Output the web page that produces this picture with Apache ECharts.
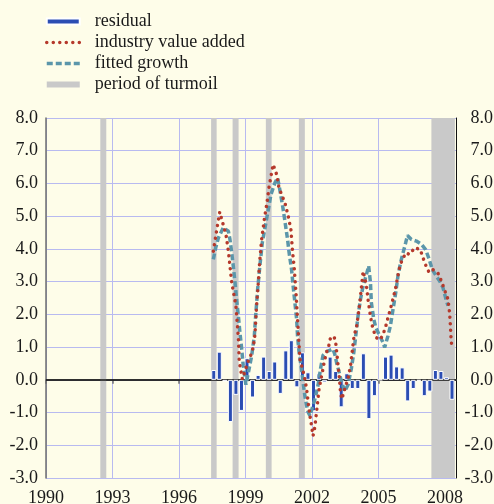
<!DOCTYPE html>
<html>
<head>
<meta charset="utf-8">
<script src="https://cdn.jsdelivr.net/npm/echarts@6/dist/echarts.min.js"></script>
<style>
  html, body { margin: 0; padding: 0; background: #fefde9; }
  #chart { width: 494px; height: 504px; }
</style>
</head>
<body>
<div id="chart"></div>
<script>
const SERIF = "'Liberation Serif', 'Times New Roman', serif"

// x ticks (years) and y range
const xTicks = [1990, 1993, 1996, 1999, 2002, 2005, 2008]

// residual, one bar per quarter from 1997Q3 to 2008Q2
const residualFirst = [1997, 3]
const residual = [
  0.30, 0.86, -0.05, -1.29, -0.46, -0.95, 0.66, -0.54,
  0.15, 0.71, 0.27, 0.56, -0.43, 0.90, 1.21, -0.23,
  0.84, 0.23, -0.96, 0.20, -0.08, 0.71, 0.27, -0.84,
  0.20, -0.28, -0.28, 0.81, -1.20, -0.50, 0.00, 0.71,
  0.77, 0.41, 0.38, -0.66, -0.28, -0.03, -0.50, -0.36,
  0.30, 0.27, 0.08, -0.61
]

// industry value added, [year, %]
const industry = [
  [1997.55, 3.93], [1997.72, 4.65], [1997.84, 5.13], [1997.93, 4.90], [1998.12, 4.44],
  [1998.23, 3.93], [1998.38, 2.97], [1998.57, 2.26], [1998.68, 1.29], [1998.72, 0.56],
  [1998.83, 0.12], [1998.86, 0.02], [1998.98, 0.27], [1999.10, 0.53], [1999.23, 0.73],
  [1999.35, 0.99], [1999.43, 1.40], [1999.50, 2.26], [1999.58, 2.97], [1999.65, 3.68],
  [1999.73, 4.29], [1999.85, 4.90], [1999.96, 5.36], [2000.06, 5.87], [2000.15, 6.22],
  [2000.25, 6.58], [2000.33, 6.52], [2000.41, 6.27], [2000.51, 5.87], [2000.78, 5.41],
  [2000.93, 5.00], [2001.05, 4.59], [2001.13, 3.88], [2001.20, 3.43], [2001.28, 2.66],
  [2001.35, 1.85], [2001.42, 1.04], [2001.46, 0.63], [2001.60, 0.27], [2001.68, 0.02],
  [2001.76, -0.28], [2001.83, -0.69], [2001.91, -1.10], [2001.98, -1.40], [2002.05, -1.71],
  [2002.13, -1.45], [2002.22, -0.90], [2002.32, -0.28], [2002.48, 0.27], [2002.55, 0.53],
  [2002.66, 0.84], [2002.76, 1.04], [2002.84, 1.29], [2003.00, 1.32], [2003.08, 1.09],
  [2003.15, 0.63], [2003.23, 0.12], [2003.29, -0.40], [2003.35, -0.59], [2003.45, -0.35],
  [2003.63, 0.05], [2003.74, 0.43], [2003.83, 0.94], [2003.90, 1.34], [2004.01, 1.60],
  [2004.08, 1.95], [2004.16, 2.36], [2004.23, 2.82], [2004.31, 3.32], [2004.38, 3.12],
  [2004.46, 2.87], [2004.53, 2.46], [2004.65, 1.90], [2004.74, 1.60], [2004.88, 1.30],
  [2005.06, 1.22], [2005.19, 1.35], [2005.33, 1.63], [2005.43, 1.90], [2005.54, 2.16],
  [2005.69, 2.56], [2005.78, 2.82], [2005.91, 3.29], [2005.99, 3.53], [2006.23, 3.88],
  [2006.41, 3.83], [2006.64, 4.04], [2006.89, 3.98], [2007.01, 3.73], [2007.13, 3.51],
  [2007.28, 3.29], [2007.43, 3.38], [2007.68, 3.27], [2007.84, 3.02], [2008.03, 2.66],
  [2008.14, 2.46], [2008.21, 2.05], [2008.24, 1.75], [2008.27, 1.34], [2008.30, 1.09]
]

// fitted growth, [year, %]
const fitted = [
  [1997.55, 3.68], [1997.66, 4.04], [1997.78, 4.34], [1998.00, 4.65], [1998.23, 4.54],
  [1998.30, 4.29], [1998.38, 3.88], [1998.45, 3.48], [1998.53, 2.97], [1998.60, 2.46],
  [1998.68, 1.95], [1998.75, 1.45], [1998.83, 0.94], [1998.90, 0.43], [1999.02, -0.15],
  [1999.13, 0.22], [1999.28, 0.73], [1999.40, 1.34], [1999.46, 1.95], [1999.55, 2.77],
  [1999.65, 3.48], [1999.76, 4.19], [1999.91, 4.75], [2000.03, 5.20], [2000.15, 5.66],
  [2000.33, 6.02], [2000.45, 6.17], [2000.55, 5.81], [2000.68, 5.30], [2000.78, 4.85],
  [2000.90, 4.29], [2000.97, 3.88], [2001.08, 3.37], [2001.15, 2.87], [2001.23, 2.36],
  [2001.31, 1.85], [2001.35, 1.34], [2001.42, 0.84], [2001.53, 0.33], [2001.60, -0.08],
  [2001.68, -0.49], [2001.76, -0.79], [2001.83, -0.99], [2001.91, -1.10], [2001.97, -1.15],
  [2002.13, -0.60], [2002.28, -0.15], [2002.39, 0.35], [2002.50, 0.75], [2002.66, 0.86],
  [2002.95, 0.94], [2003.03, 0.78], [2003.11, 0.53], [2003.23, 0.22], [2003.33, -0.05],
  [2003.48, -0.35], [2003.63, -0.15], [2003.78, 0.35], [2003.89, 0.84], [2004.08, 1.95],
  [2004.19, 2.46], [2004.31, 2.87], [2004.46, 3.22], [2004.56, 3.48], [2004.64, 2.97],
  [2004.68, 2.36], [2004.79, 1.85], [2004.88, 1.60], [2005.06, 1.34], [2005.21, 1.14],
  [2005.28, 0.99], [2005.43, 1.34], [2005.54, 1.65], [2005.66, 2.16], [2005.78, 2.66],
  [2005.88, 3.17], [2006.00, 3.58], [2006.11, 3.88], [2006.23, 4.19], [2006.31, 4.41],
  [2006.49, 4.29], [2006.71, 4.24], [2006.94, 4.14], [2007.13, 3.98], [2007.28, 3.70],
  [2007.43, 3.37], [2007.61, 3.17], [2007.76, 3.02], [2007.91, 2.82], [2008.03, 2.51],
  [2008.14, 2.26]
]

// periods of turmoil, start/end in years
const turmoilStart = [1992.45, 1997.45, 1998.42, 1999.92, 2001.41, 2007.39]
const turmoilEnd = [1992.72, 1997.70, 1998.69, 2000.18, 2001.68, 2008.45]

// bars sit a little past the start of their quarter in the source chart
const residualData = residual.map((v, i) => {
  const q = residualFirst[1] - 1 + i
  const year = residualFirst[0] + Math.floor(q / 4)
  return [year + (q % 4) * 0.25 + 0.07, v]
})

const RED = '#b5392b'
const TEAL = '#5b96aa'
const dotted = { color: RED, width: 3.5, type: [0.01, 6.5], cap: 'round' }
const dashed = { color: TEAL, width: 3.5, type: [6, 3], cap: 'butt' }

const chart = echarts.init(document.getElementById('chart'))

chart.setOption({
  backgroundColor: '#fefde9',
  textStyle: { fontFamily: SERIF },
  animation: false,
  legend: {
    orient: 'vertical',
    left: 40,
    top: 6,
    itemWidth: 33,
    itemHeight: 6,
    itemGap: 0,
    textStyle: { fontFamily: SERIF, fontSize: 18, color: '#1a1a1a', lineHeight: 21, padding: [0, 0, 0, 10] },
    data: [
      { name: 'residual', icon: 'rect' },
      { name: 'industry value added', itemStyle: { opacity: 0 }, lineStyle: { width: 3.5, type: [0.01, 6.5], cap: 'round' } },
      { name: 'fitted growth', itemStyle: { opacity: 0 }, lineStyle: { width: 3.5, type: [6, 3] } },
      { name: 'period of turmoil', icon: 'rect' }
    ]
  },
  grid: { left: 46, right: 38, top: 118, bottom: 26, containLabel: false, outerBoundsMode: 'none' },
  xAxis: {
    type: 'value',
    min: 1990,
    max: 2008.5,
    interval: 3,
    axisLine: { lineStyle: { color: '#6e6e6e', width: 1.5 } },
    axisTick: { length: 4, lineStyle: { color: '#6e6e6e', width: 1.5 }, customValues: xTicks },
    axisLabel: {
      customValues: xTicks,
      formatter: v => String(v),
      fontFamily: SERIF, fontSize: 18, color: '#1a1a1a', margin: 11
    },
    splitLine: { show: true, lineStyle: { color: '#b8baf0', width: 1 } }
  },
  yAxis: [
    {
      type: 'value',
      min: -3,
      max: 8,
      interval: 1,
      axisLine: { show: true, onZero: false, lineStyle: { color: '#6e6e6e', width: 1.5 } },
      axisTick: { show: false },
      axisLabel: { formatter: v => v.toFixed(1), fontFamily: SERIF, fontSize: 18, color: '#1a1a1a', margin: 8 },
      splitLine: { lineStyle: { color: '#b8baf0', width: 1 } }
    },
    {
      type: 'value',
      position: 'right',
      min: -3,
      max: 8,
      interval: 1,
      axisLine: { show: true, onZero: false, lineStyle: { color: '#111', width: 1 } },
      axisTick: { show: false },
      axisLabel: {
        formatter: v => v.toFixed(1), align: 'right',
        fontFamily: SERIF, fontSize: 18, color: '#1a1a1a', margin: 37
      },
      splitLine: { show: false }
    }
  ],
  series: [
    {
      name: 'period of turmoil',
      type: 'line',
      data: [],
      color: '#c9c9c9',
      z: 1,
      markArea: {
        silent: true,
        z: 1,
        itemStyle: { color: '#c9c9c9' },
        data: turmoilStart.map((s, i) => [{ xAxis: s }, { xAxis: turmoilEnd[i] }])
      },
      markLine: {
        silent: true,
        z: 2,
        symbol: 'none',
        label: { show: false },
        lineStyle: { color: '#111', width: 1.5, type: 'solid' },
        data: [{ yAxis: 0 }]
      }
    },
    {
      name: 'residual',
      type: 'bar',
      data: residualData,
      barWidth: 5,
      color: '#2b4db3',
      itemStyle: { color: '#2b4db3', borderColor: '#ffffff', borderWidth: 1 },
      z: 3
    },
    {
      name: 'industry value added',
      type: 'line',
      data: industry,
      showSymbol: false,
      symbol: 'none',
      color: RED,
      lineStyle: dotted,
      z: 5
    },
    {
      name: 'fitted growth',
      type: 'line',
      data: fitted,
      showSymbol: false,
      symbol: 'none',
      color: TEAL,
      lineStyle: dashed,
      z: 4
    }
  ]
})
</script>
</body>
</html>
